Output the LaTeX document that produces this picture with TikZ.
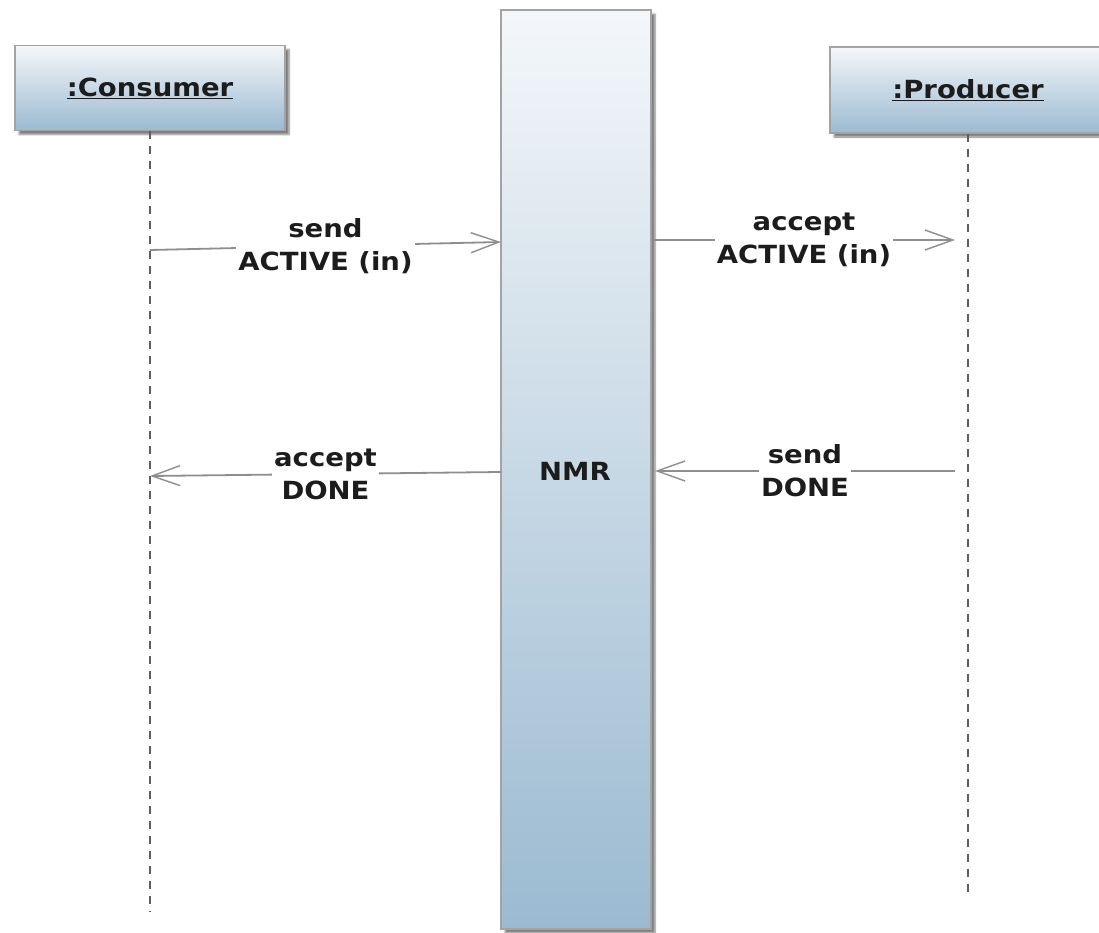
\documentclass[tikz,border=0pt]{standalone}
\usepackage{fontspec}
\newfontfamily\lblfont{DejaVu Sans}[FakeStretch=1.1]
\usetikzlibrary{arrows.meta,shadows.blur}

\definecolor{boxtop}{HTML}{F4F7FA}
\definecolor{boxbot}{HTML}{9BBAD1}
\definecolor{boxline}{HTML}{A3A3A3}
\definecolor{msgline}{HTML}{8E8E8E}
\definecolor{lifeline}{HTML}{5E5E5E}
\definecolor{txt}{HTML}{1C1C1C}

\tikzset{
  objbox/.style={draw=boxline, line width=1.4pt, top color=boxtop, bottom color=boxbot,
    blur shadow={shadow xshift=4pt, shadow yshift=-4pt, shadow blur steps=6, shadow opacity=50},
    font=\lblfont\bfseries\fontsize{25}{30}\selectfont, text=txt, inner sep=0pt},
  lifeln/.style={draw=lifeline, line width=2pt, dash pattern=on 8pt off 7pt},
  msg/.style={draw=msgline, line width=1.8pt, -{Straight Barb[length=28pt,width=20pt,line width=1.4pt]}},
  lbl/.style={fill=white, inner sep=2pt, align=center, text=txt,
    font=\lblfont\bfseries\fontsize{25}{33}\selectfont}
}

\begin{document}
\begin{tikzpicture}[x=1pt, y=-1pt]
\useasboundingbox (0,0) rectangle (1099,933);

% participants and the broker
\node[objbox, minimum width=270pt, minimum height=85pt] (cons) at (150,88) {\underline{:Consumer}};
\node[objbox, minimum width=276pt, minimum height=86pt] (prod) at (968,90) {\underline{:Producer}};
\node[objbox, minimum width=150pt, minimum height=919pt] (nmr) at (576,469.5) {};
\node[font=\lblfont\bfseries\fontsize{25}{30}\selectfont, text=txt] (nmrlbl) at (575,471) {NMR};

% lifelines
\coordinate (consEnd) at (150,912);
\coordinate (prodEnd) at (968,898);
\draw[lifeln] (cons.south) -- (consEnd);
\draw[lifeln] (prod.south) -- (prodEnd);

% message anchors
\coordinate (m1s) at (150,250);
\coordinate (m1t) at (501,242);
\coordinate (m2s) at (653,240);
\coordinate (m2t) at (955,240);
\coordinate (m3s) at (501,472);
\coordinate (m3t) at (150,476);
\coordinate (m4s) at (955,471);
\coordinate (m4t) at (655,471);

% messages
\draw[msg] (m1s) -- node[lbl] {send\\ACTIVE (in)} (m1t);
\draw[msg] (m2s) -- node[lbl] {accept\\ACTIVE (in)} (m2t);
\draw[msg] (m3s) -- node[lbl] {accept\\DONE} (m3t);
\draw[msg] (m4s) -- node[lbl] {send\\DONE} (m4t);
\end{tikzpicture}
\end{document}
